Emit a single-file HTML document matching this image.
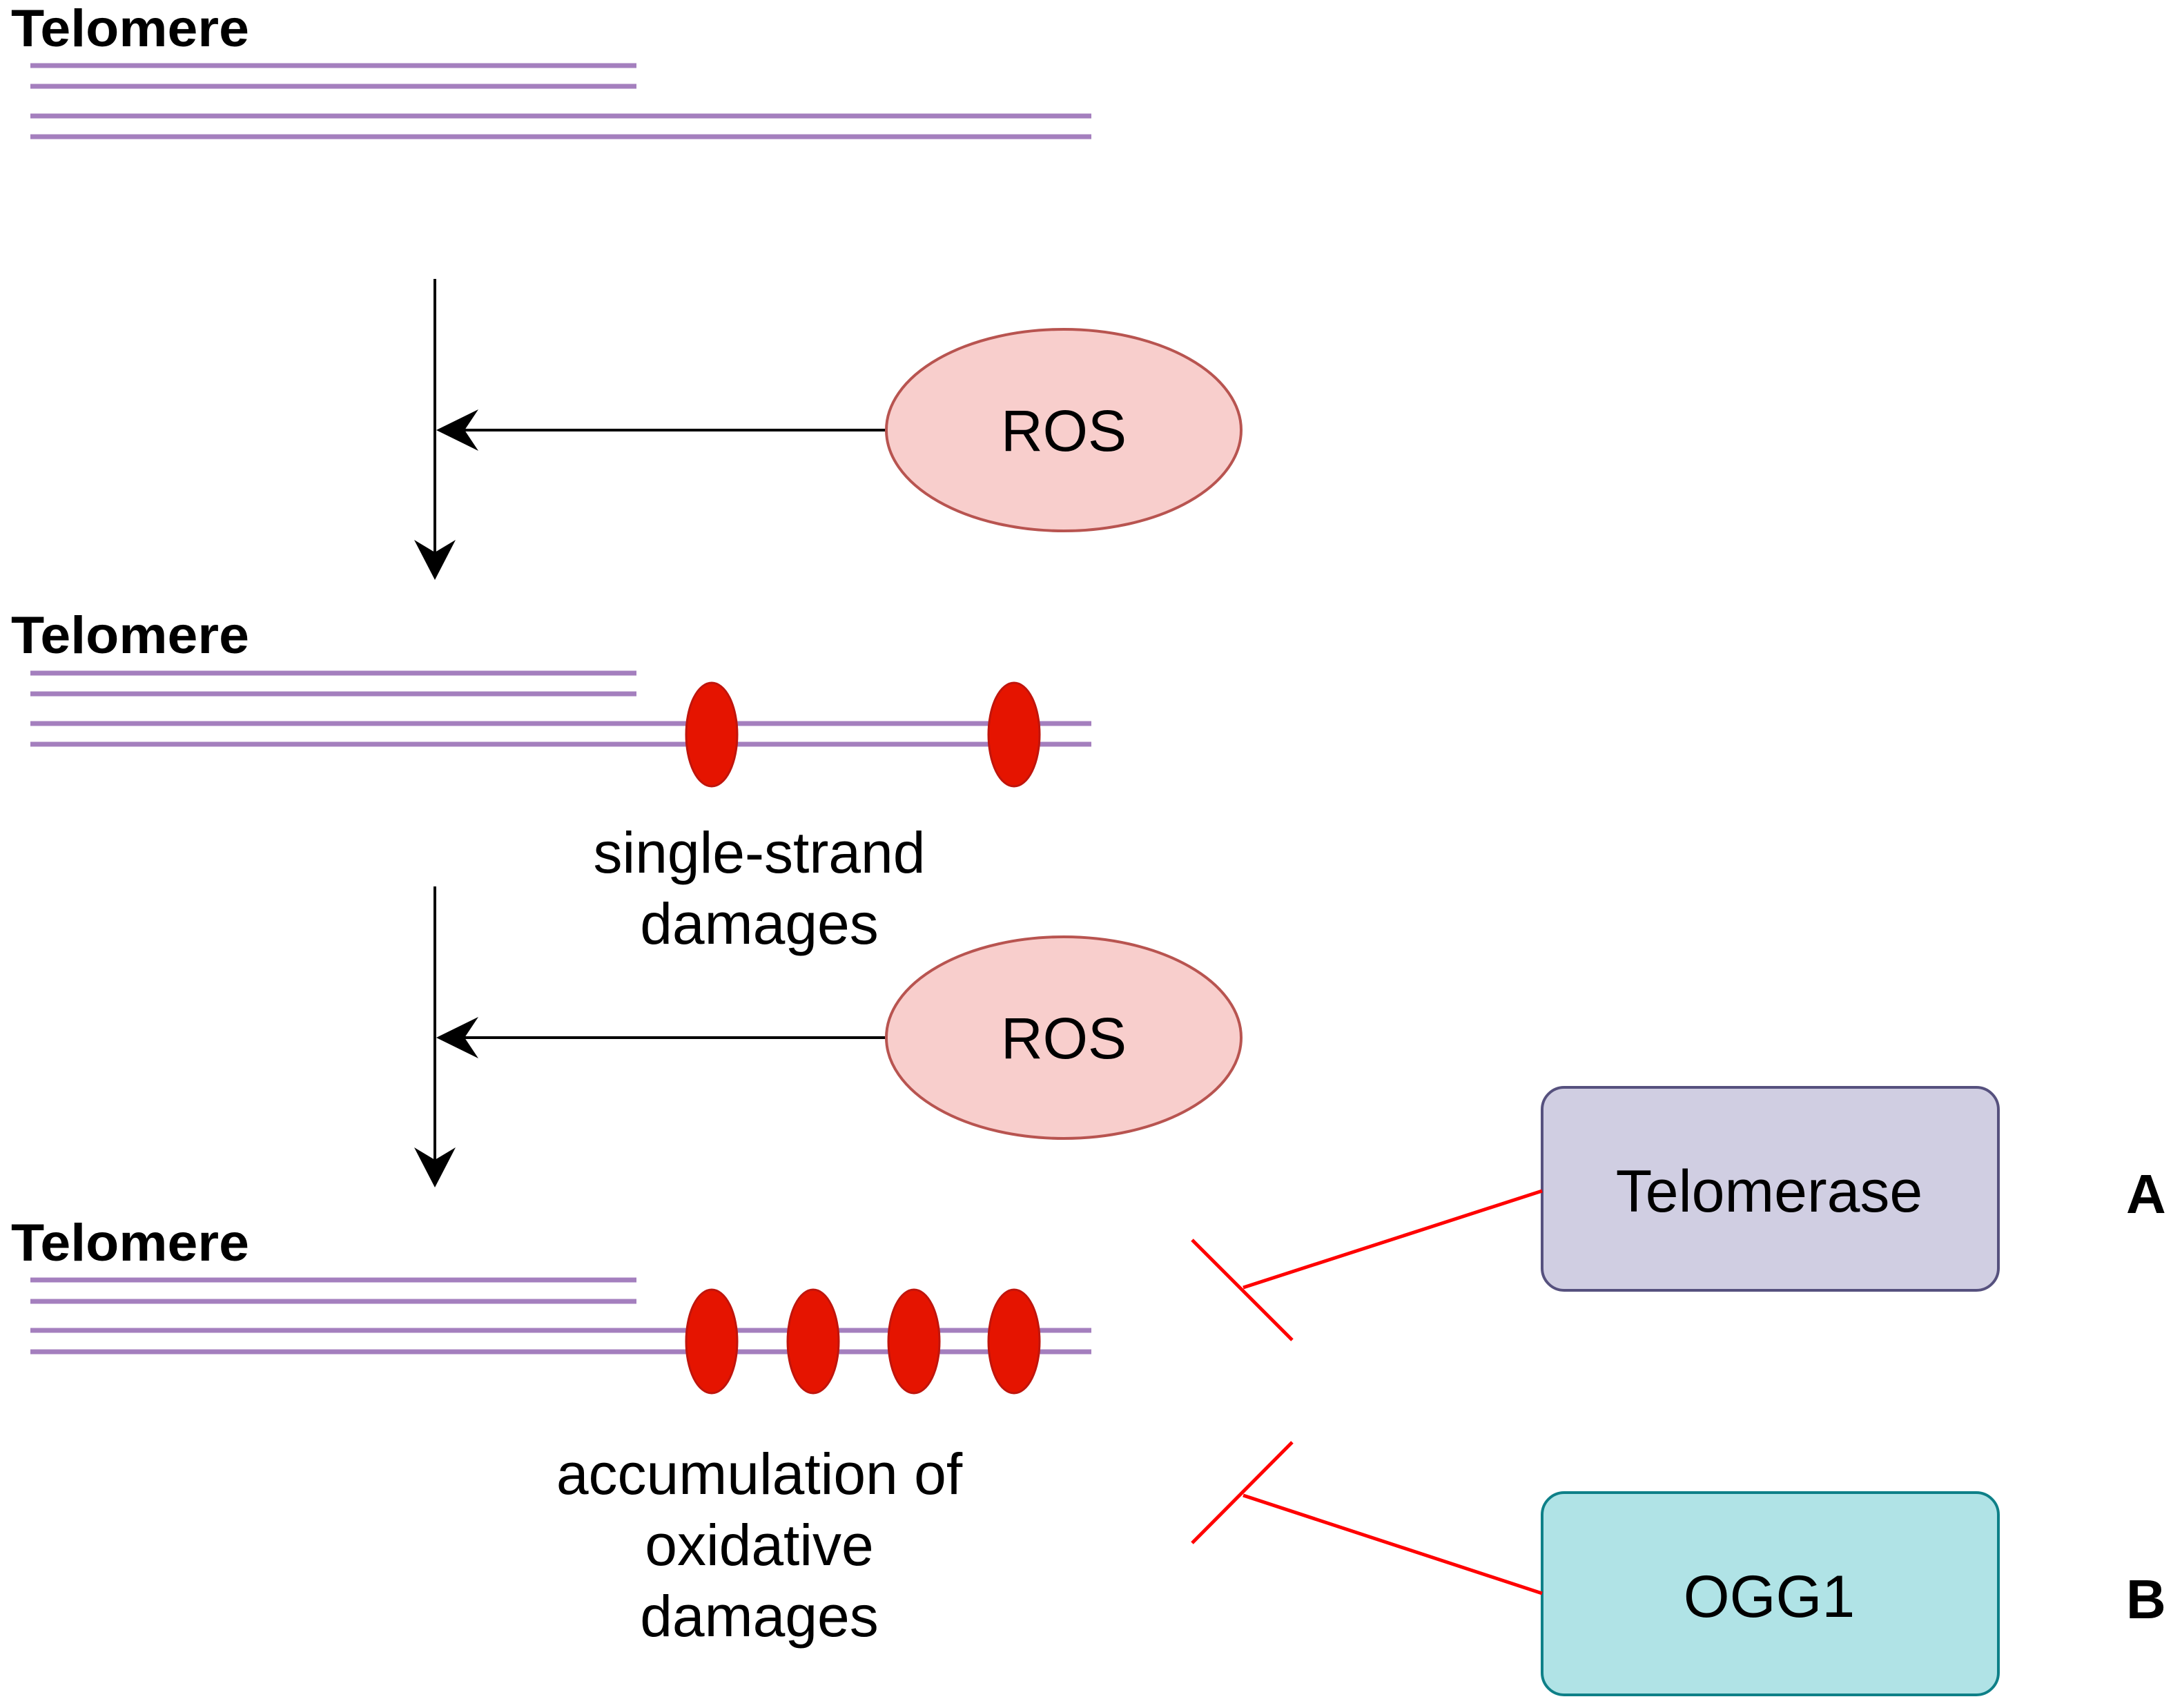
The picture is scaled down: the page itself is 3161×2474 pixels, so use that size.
<!DOCTYPE html>
<html><head><meta charset="utf-8"><style>
html,body{margin:0;padding:0;background:#fff;}
svg{display:block;}
text{font-family:"Liberation Sans",Arial,sans-serif;}
</style></head><body>
<svg width="3161" height="2474" viewBox="0 0 3161 2474" xmlns="http://www.w3.org/2000/svg">
<g fill="#000" font-weight="bold" font-size="76">
<text x="16" y="67" textLength="345" lengthAdjust="spacingAndGlyphs">Telomere</text>
<text x="16" y="946" textLength="345" lengthAdjust="spacingAndGlyphs">Telomere</text>
<text x="16" y="1826" textLength="345" lengthAdjust="spacingAndGlyphs">Telomere</text>
</g>
<g stroke="#a47fbe" stroke-width="7">
<line x1="44" y1="95" x2="922" y2="95"/><line x1="44" y1="125" x2="922" y2="125"/>
<line x1="44" y1="168" x2="1581" y2="168"/><line x1="44" y1="198" x2="1581" y2="198"/>
<line x1="44" y1="975" x2="922" y2="975"/><line x1="44" y1="1005" x2="922" y2="1005"/>
<line x1="44" y1="1048" x2="1581" y2="1048"/><line x1="44" y1="1078" x2="1581" y2="1078"/>
<line x1="44" y1="1854" x2="922" y2="1854"/><line x1="44" y1="1885" x2="922" y2="1885"/>
<line x1="44" y1="1927" x2="1581" y2="1927"/><line x1="44" y1="1958" x2="1581" y2="1958"/>
</g>
<g fill="#e51400" stroke="#c0150c" stroke-width="3">
<ellipse cx="1031" cy="1064" rx="37" ry="75"/><ellipse cx="1469" cy="1064" rx="37" ry="75"/>
<ellipse cx="1031" cy="1943" rx="37" ry="75"/><ellipse cx="1178" cy="1943" rx="37" ry="75"/>
<ellipse cx="1324" cy="1943" rx="37" ry="75"/><ellipse cx="1469" cy="1943" rx="37" ry="75"/>
</g>
<g stroke="#000" stroke-width="4" fill="none">
<line x1="630" y1="404" x2="630" y2="820"/>
<line x1="1284" y1="623" x2="650" y2="623"/>
<line x1="630" y1="1284" x2="630" y2="1700"/>
<line x1="1284" y1="1503" x2="650" y2="1503"/>
</g>
<g fill="#000">
<path d="M630 840 L600 782 L630 800 L660 782 Z"/>
<path d="M630 1720 L600 1662 L630 1680 L660 1662 Z"/>
<path d="M632 623 L693 593 L673 623 L693 653 Z"/>
<path d="M632 1503 L693 1473 L673 1503 L693 1533 Z"/>
</g>
<g fill="#f8cecc" stroke="#b85450" stroke-width="4">
<ellipse cx="1541" cy="623" rx="257" ry="146"/>
<ellipse cx="1541" cy="1503" rx="257" ry="146"/>
</g>
<g font-size="84" text-anchor="middle" fill="#000">
<text x="1541" y="653">ROS</text>
<text x="1541" y="1533">ROS</text>
</g>
<g font-size="84" text-anchor="middle" fill="#000">
<text x="1100" y="1264">single-strand</text>
<text x="1100" y="1367">damages</text>
<text x="1100" y="2164">accumulation of</text>
<text x="1100" y="2267">oxidative</text>
<text x="1100" y="2370">damages</text>
</g>
<rect x="2234" y="1575" width="661" height="294" rx="32" fill="#d0cee2" stroke="#56517e" stroke-width="4"/>
<rect x="2234" y="2162" width="661" height="293" rx="32" fill="#b0e3e6" stroke="#0e8088" stroke-width="4"/>
<g font-size="86" text-anchor="middle" fill="#000">
<text x="2563" y="1755">Telomerase</text>
<text x="2563" y="2342">OGG1</text>
</g>
<g stroke="#ff0000" stroke-width="5">
<line x1="2234" y1="1725" x2="1801" y2="1865"/>
<line x1="1727" y1="1796" x2="1872" y2="1941"/>
<line x1="2234" y1="2308" x2="1801" y2="2166"/>
<line x1="1727" y1="2235" x2="1872" y2="2089"/>
</g>
<g font-size="80" font-weight="bold" fill="#000">
<text x="3080" y="1757">A</text>
<text x="3080" y="2344">B</text>
</g>
</svg>
</body></html>
